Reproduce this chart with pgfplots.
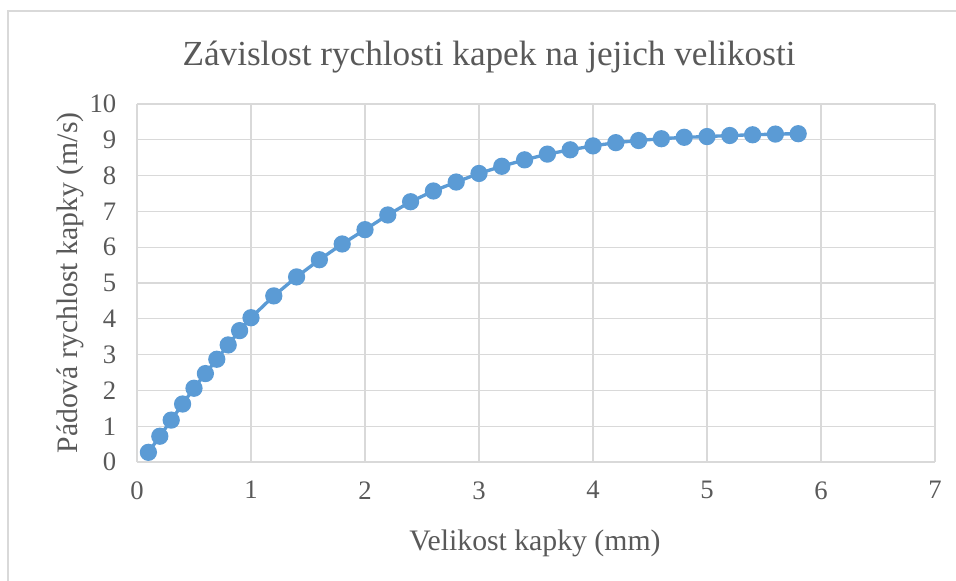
\documentclass[border=0pt]{standalone}
\usepackage{pgfplots}
\pgfplotsset{compat=1.18}
\usepackage{fontspec}
\setmainfont{Liberation Serif}
\definecolor{linecol}{HTML}{5B9BD5}
\definecolor{txtcol}{HTML}{595959}
\definecolor{gridcol}{HTML}{D9D9D9}
\begin{document}
\begin{tikzpicture}[x=0.75pt,y=0.75pt]
\useasboundingbox (-137,-119) rectangle (819,462);
\draw[gridcol,line width=1.2pt] (-129,-125) -- (-129,451) -- (830,451);
\begin{axis}[
  at={(0,0)}, anchor=origin,
  scale only axis,
  width=598.5pt, height=268.5pt,
  xmin=0, xmax=7, ymin=0, ymax=10,
  xtick={0,1,...,7}, ytick={0,1,...,10},
  grid=major,
  major grid style={gridcol, line width=0.8pt},
  axis line style={gridcol, line width=0.8pt},
  axis x line*=bottom, axis y line*=left,
  tick style={draw=none},
  ticklabel style={font=\fontsize{20}{20}\selectfont, text=txtcol},
  xticklabel style={yshift=-11pt},
  yticklabel style={xshift=-12pt},
  /pgf/number format/assume math mode=true,
  clip=false,
]
\addplot[color=linecol, line width=2.5pt, mark=*, mark size=5.2pt,
  mark options={fill=linecol, draw=linecol}] coordinates {
(0.1,0.27) (0.2,0.72) (0.3,1.17) (0.4,1.62) (0.5,2.06) (0.6,2.47)
(0.7,2.87) (0.8,3.27) (0.9,3.67) (1.0,4.03) (1.2,4.64) (1.4,5.17)
(1.6,5.65) (1.8,6.09) (2.0,6.49) (2.2,6.90) (2.4,7.27) (2.6,7.57)
(2.8,7.82) (3.0,8.06) (3.2,8.26) (3.4,8.44) (3.6,8.60) (3.8,8.72)
(4.0,8.83) (4.2,8.92) (4.4,8.98) (4.6,9.03) (4.8,9.07) (5.0,9.09)
(5.2,9.12) (5.4,9.14) (5.6,9.16) (5.8,9.17)
};
\end{axis}
\node[text=txtcol, font=\fontsize{26.4}{26.4}\selectfont] at (352,405) {Závislost rychlosti kapek na jejich velikosti};
\node[text=txtcol, font=\fontsize{22.3}{22.3}\selectfont] at (398,-81) {Velikost kapky (mm)};
\node[text=txtcol, font=\fontsize{22.3}{22.3}\selectfont, rotate=90] at (-67,179) {Pádová rychlost kapky (m/s)};
\end{tikzpicture}
\end{document}
